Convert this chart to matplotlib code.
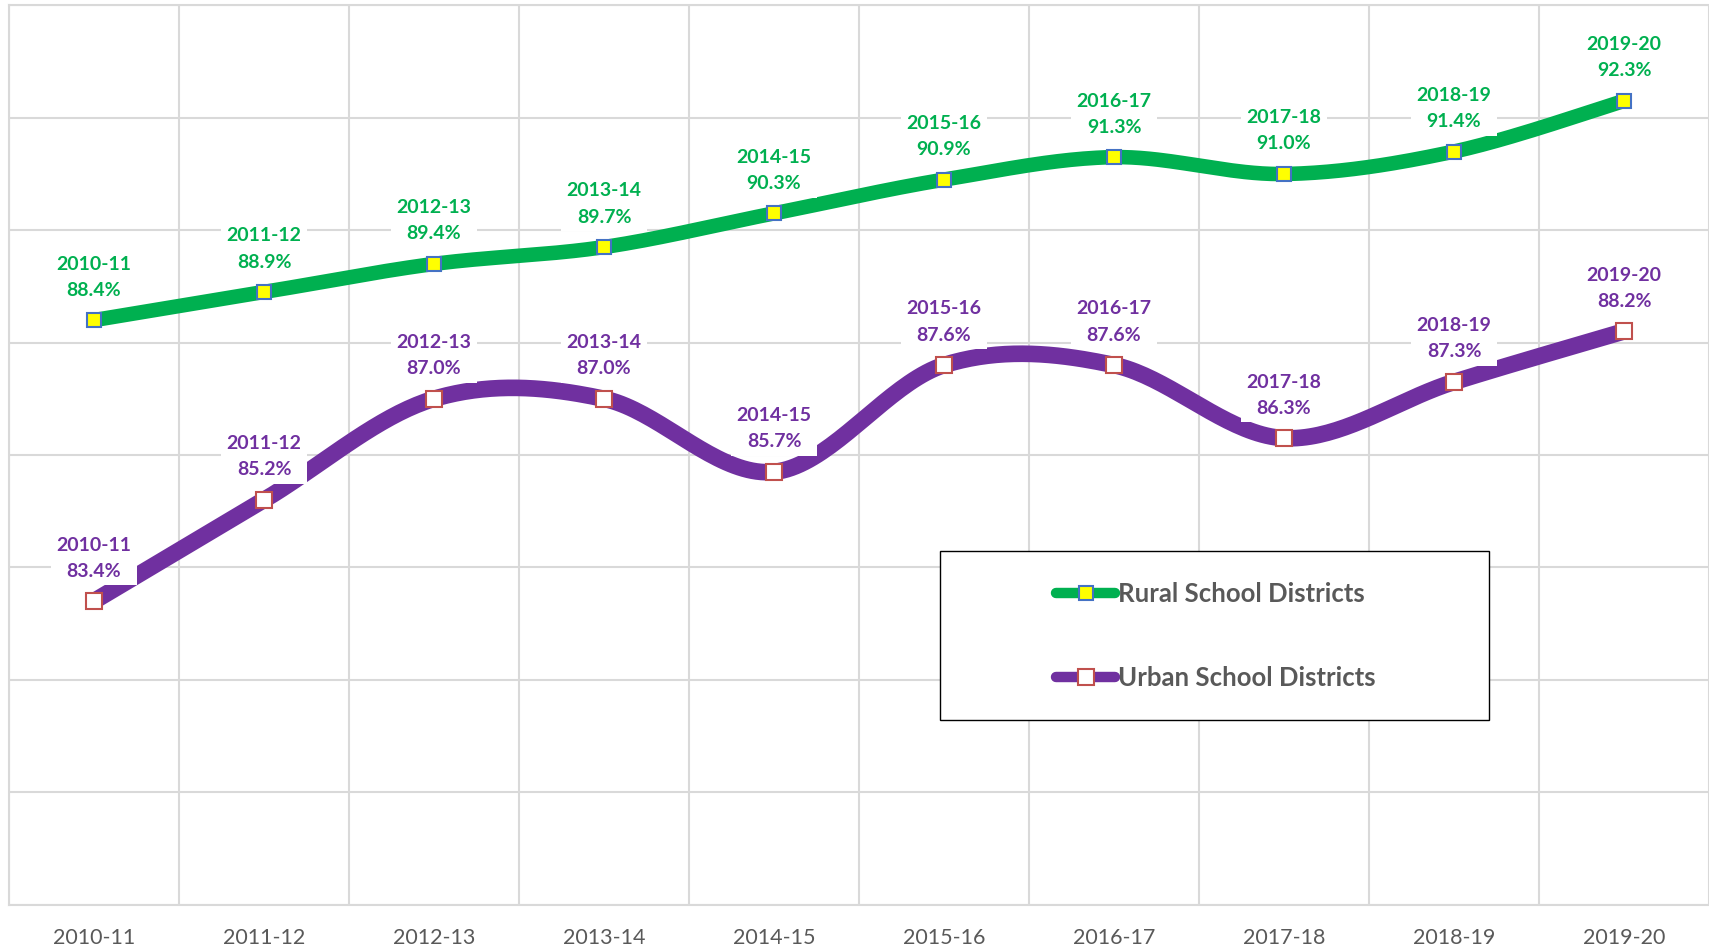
"""
Rural vs urban school districts, 2010-11 to 2019-20.
Smoothed two-line chart with data labels above each point.
"""
import numpy as np
import matplotlib
matplotlib.use("Agg")
import matplotlib.pyplot as plt
from matplotlib.lines import Line2D
from matplotlib.patches import Rectangle

years = ["2010-11", "2011-12", "2012-13", "2013-14", "2014-15",
         "2015-16", "2016-17", "2017-18", "2018-19", "2019-20"]
rural = [88.4, 88.9, 89.4, 89.7, 90.3, 90.9, 91.3, 91.0, 91.4, 92.3]
urban = [83.4, 85.2, 87.0, 87.0, 85.7, 87.6, 87.6, 86.3, 87.3, 88.2]

GREEN = "#00B050"
PURPLE = "#7030A0"
GRID = "#D9D9D9"
TEXT = "#595959"

plt.rcParams["font.family"] = ["Lato", "DejaVu Sans"]


def smooth(x, y, n=40):
    # Catmull-Rom style bezier, like the spreadsheet "smoothed line" option
    p = np.column_stack([x, y]).astype(float)
    ext = np.vstack([p[0], p, p[-1]])
    t = np.linspace(0, 1, n)[:, None]
    out = []
    for i in range(len(p) - 1):
        p0, p1, p2, p3 = ext[i], ext[i + 1], ext[i + 2], ext[i + 3]
        c1 = p1 + (p2 - p0) / 6
        c2 = p2 - (p3 - p1) / 6
        seg = ((1 - t) ** 3) * p1 + 3 * ((1 - t) ** 2) * t * c1 \
            + 3 * (1 - t) * t ** 2 * c2 + t ** 3 * p2
        out.append(seg if i == 0 else seg[1:])
    seg = np.vstack(out)
    return seg[:, 0], seg[:, 1]


fig = plt.figure(figsize=(17.09, 9.48), dpi=100)
ax = fig.add_axes([0.0053, 0.0458, 0.9947, 0.9485])

x = np.arange(len(years))

series = [
    (rural, GREEN, 10.5, "#FFFF00", "#4472C4", 9.5, "Rural School Districts"),
    (urban, PURPLE, 12, "white", "#C0504D", 12, "Urban School Districts"),
]

for vals, col, lw, mfc, mec, ms, name in series:
    sx, sy = smooth(x, vals)
    ax.plot(sx, sy, color=col, lw=lw, solid_capstyle="butt", zorder=3)
    ax.plot(x, vals, ls="none", marker="s", ms=ms, mfc=mfc, mec=mec,
            mew=1.5, zorder=4)
    for xi, v, yr in zip(x, vals, years):
        ax.annotate(f"{yr}\n{v:.1f}%", (xi, v), xytext=(0, 31),
                    textcoords="offset points", ha="center", va="center",
                    fontsize=14, fontweight="bold", color=col,
                    linespacing=1.65, zorder=5,
                    bbox=dict(boxstyle="square,pad=0.3", fc="white", ec="none"))

ax.set_xlim(-0.5, 9.5)
ax.set_ylim(78, 94)
ax.set_xticks(x)
ax.set_xticklabels(years, fontsize=15.5, color=TEXT)
ax.set_xticks(np.arange(-0.5, 10, 1), minor=True)
ax.set_yticks(np.arange(78, 95, 2))
ax.set_yticklabels([])
ax.tick_params(axis="both", which="both", length=0)
ax.tick_params(axis="x", pad=17)
ax.grid(which="minor", axis="x", color=GRID, lw=1.5)
ax.grid(which="major", axis="y", color=GRID, lw=1.5)
ax.set_axisbelow(True)
for side in ["left", "bottom", "top"]:
    ax.spines[side].set_color(GRID)
    ax.spines[side].set_linewidth(1.5)
ax.spines["right"].set_visible(False)

# legend with a fixed frame
ax.add_patch(Rectangle((0.5476, 0.2053), 0.323, 0.188, transform=ax.transAxes,
                       fc="white", ec="black", lw=1, zorder=6))
handles = [Line2D([], [], color=col, lw=7.5, solid_capstyle="round", marker="s",
                  ms=ms, mfc=mfc, mec=mec, mew=1.5)
           for vals, col, lw, mfc, mec, ms, name in series]
leg = ax.legend(handles, [s[-1] for s in series], loc="center",
                bbox_to_anchor=(0.710, 0.299), frameon=False, handlelength=2.3,
                handletextpad=0.1, labelspacing=2.33,
                prop=dict(size=18.5, weight="bold"), labelcolor=TEXT)
leg.set_zorder(7)

fig.savefig("out.png", dpi=100)
